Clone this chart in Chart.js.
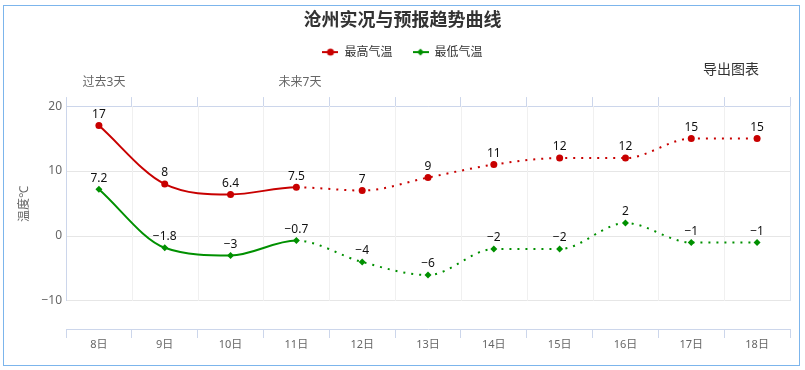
<!DOCTYPE html>
<html>
<head>
<meta charset="utf-8">
<title>沧州实况与预报趋势曲线</title>
<script src="https://cdn.jsdelivr.net/npm/chart.js@4"></script>
<style>
  html, body { margin: 0; padding: 0; background: #fff; }
  canvas { display: block; }
</style>
</head>
<body>
<canvas id="trendChart" width="805" height="370"></canvas>
<script>
const days = ["8日", "9日", "10日", "11日", "12日", "13日", "14日", "15日", "16日", "17日", "18日"];
const highTemps = [17, 8, 6.4, 7.5, 7, 9, 11, 12, 12, 15, 15];
const lowTemps = [7.2, -1.8, -3, -0.7, -4, -6, -2, -2, 2, -1, -1];
const yTicks = [-10, 0, 10, 20];
const forecastFrom = 3; // last observed point, dotted after it

const FONT = '"Noto Sans", "Noto Sans CJK SC", sans-serif';
const RED = "#c80000";
const GREEN = "#009000";
const AXIS_BLUE = "#ccd6eb";

Chart.defaults.font.family = FONT;

function legendIcon(color, shape) {
  const c = document.createElement("canvas");
  c.width = 16;
  c.height = 10;
  const g = c.getContext("2d");
  g.strokeStyle = color;
  g.fillStyle = color;
  g.lineWidth = 2;
  g.beginPath();
  g.moveTo(0, 5);
  g.lineTo(16, 5);
  g.stroke();
  g.beginPath();
  if (shape === "circle") {
    g.arc(8, 5, 3.5, 0, Math.PI * 2);
  } else {
    g.moveTo(8, 1.5); g.lineTo(11.5, 5); g.lineTo(8, 8.5); g.lineTo(4.5, 5); g.closePath();
  }
  g.fill();
  return c;
}
const legendIcons = [legendIcon(RED, "circle"), legendIcon(GREEN, "diamond")];

const fmt = v => String(v).replace("-", "\u2212");

// vertical grid lines + left axis line, drawn under the lines
const gridPlugin = {
  id: "bandGrid",
  beforeDatasetsDraw(chart) {
    const { ctx, scales: { x, y } } = chart;
    const top = y.getPixelForValue(yTicks[yTicks.length - 1]);
    const bottom = y.getPixelForValue(yTicks[0]);
    ctx.save();
    ctx.lineWidth = 1;
    for (let i = 0; i <= days.length; i++) {
      const px = Math.round(x.getPixelForValue(i - 0.5)) + 0.5;
      ctx.strokeStyle = i === 0 ? AXIS_BLUE : (i === days.length ? "#dde4ee" : "#f0f0f0");
      ctx.beginPath();
      ctx.moveTo(px, top);
      ctx.lineTo(px, bottom);
      ctx.stroke();
    }
    ctx.restore();
  }
};

// value labels above every point
const labelPlugin = {
  id: "valueLabels",
  afterDatasetsDraw(chart) {
    const { ctx } = chart;
    ctx.save();
    ctx.font = "12px " + FONT;
    ctx.fillStyle = "#111";
    ctx.textAlign = "center";
    ctx.textBaseline = "middle";
    chart.data.datasets.forEach((ds, di) => {
      chart.getDatasetMeta(di).data.forEach((pt, i) => {
        ctx.fillText(fmt(ds.data[i]), pt.x, pt.y - 11);
      });
    });
    ctx.restore();
  }
};

// loose texts and the outer frame
const textPlugin = {
  id: "extraText",
  afterDraw(chart) {
    const { ctx } = chart;
    ctx.save();
    ctx.textAlign = "center";
    ctx.textBaseline = "middle";
    ctx.font = "12px " + FONT;
    ctx.fillStyle = "#666";
    ctx.fillText("过去3天", 104, 83);
    ctx.fillText("未来7天", 300, 83);
    ctx.font = "14px " + FONT;
    ctx.fillStyle = "#333";
    ctx.fillText("导出图表", 731, 70);
    ctx.save();
    ctx.translate(25, 204);
    ctx.rotate(-Math.PI / 2);
    ctx.font = "12px " + FONT;
    ctx.fillStyle = "#666";
    ctx.fillText("温度℃", 0, 0);
    ctx.restore();
    ctx.strokeStyle = "#7cb5ec";
    ctx.lineWidth = 1;
    ctx.strokeRect(3.5, 5.5, 796, 360);
    ctx.restore();
  }
};

const dotted = ctx => (ctx.p0DataIndex >= forecastFrom ? [2, 6] : undefined);

new Chart(document.getElementById("trendChart"), {
  type: "line",
  data: {
    labels: days,
    datasets: [
      {
        label: "最高气温",
        data: highTemps,
        borderColor: RED,
        backgroundColor: RED,
        borderWidth: 2,
        pointStyle: "circle",
        pointRadius: 3.5,
        pointBorderWidth: 0,
        cubicInterpolationMode: "monotone",
        segment: { borderDash: dotted }
      },
      {
        label: "最低气温",
        data: lowTemps,
        borderColor: GREEN,
        backgroundColor: GREEN,
        borderWidth: 2,
        pointStyle: "rectRot",
        pointRadius: 3.5,
        pointBorderWidth: 0,
        cubicInterpolationMode: "monotone",
        segment: { borderDash: dotted }
      }
    ]
  },
  options: {
    responsive: false,
    animation: false,
    layout: { padding: 0 },
    plugins: {
      title: {
        display: true,
        text: "沧州实况与预报趋势曲线",
        color: "#333",
        font: { size: 18, weight: "bold" },
        padding: { top: 10.5, bottom: -6 }
      },
      legend: {
        display: true,
        labels: {
          color: "#333",
          font: { size: 12 },
          usePointStyle: true,
          pointStyleWidth: 16,
          padding: 20,
          generateLabels(chart) {
            const items = Chart.defaults.plugins.legend.labels.generateLabels(chart);
            items.forEach((it, i) => { it.pointStyle = legendIcons[i]; });
            return items;
          }
        }
      },
      tooltip: { enabled: false }
    },
    scales: {
      x: {
        position: "bottom",
        offset: true,
        grid: { offset: true, drawOnChartArea: false, tickLength: 9, color: AXIS_BLUE },
        border: { color: AXIS_BLUE },
        ticks: { color: "#666", font: { size: 11 }, padding: 0, maxRotation: 0 },
        afterFit(s) { s.height = 41; }
      },
      xTop: {
        type: "category",
        position: "top",
        offset: true,
        grid: { offset: true, drawOnChartArea: false, tickLength: 9, color: AXIS_BLUE },
        border: { color: AXIS_BLUE },
        ticks: { display: false },
        afterFit(s) { s.height = 38; }
      },
      y: {
        position: "left",
        min: -14.31,
        max: 20,
        afterBuildTicks(s) { s.ticks = yTicks.map(v => ({ value: v })); },
        grid: { drawTicks: false, color: "#e6e6e6" },
        border: { display: false },
        ticks: { color: "#666", font: { size: 12 }, padding: 4, callback: v => fmt(v) },
        afterFit(s) { s.width = 66; }
      },
      yRight: {
        position: "right",
        grid: { display: false },
        border: { display: false },
        ticks: { display: false },
        afterFit(s) { s.width = 15; }
      }
    }
  },
  plugins: [gridPlugin, labelPlugin, textPlugin]
});
</script>
</body>
</html>
